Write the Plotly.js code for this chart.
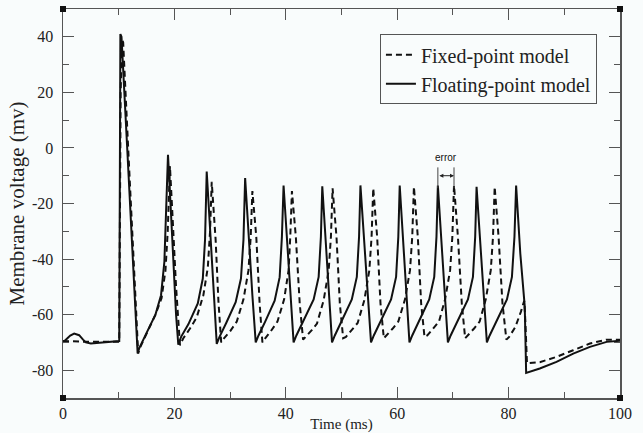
<!DOCTYPE html>
<html>
<head>
<meta charset="utf-8">
<script src="https://cdn.plot.ly/plotly-3.0.1.min.js"></script>
<style>html,body{margin:0;padding:0;background:#f9fcfc;}#chart{width:643px;height:433px;}</style>
</head>
<body>
<div id="chart"></div>
<script>
// Floating-point model (solid)
const floatTime = [0, 0.6, 1.3, 2.0, 2.9, 3.6, 4.1, 5.0, 7.0, 10.1,
  10.3, 10.5, 11.5, 12.5, 13.4,
  13.7, 14.5, 15.5, 16.6, 17.6, 18.2, 18.5, 18.85, 19.3, 19.9, 20.3, 20.7,
  21.2, 22.5, 24.2, 25.1, 25.5, 25.8, 26.5, 27.1, 27.6,
  28.1, 29.3, 31.0, 31.95, 32.4, 32.7, 33.4, 34.0, 34.6,
  35.1, 36.3, 38.0, 38.9, 39.3, 39.6, 40.35, 40.9, 41.4,
  41.9, 43.2, 45.0, 45.9, 46.3, 46.55, 47.3, 47.8, 48.3,
  48.8, 50.1, 51.85, 52.75, 53.15, 53.4, 54.2, 54.8, 55.3,
  55.8, 57.1, 58.9, 59.8, 60.2, 60.45, 61.2, 61.7, 62.2,
  62.7, 64.0, 65.75, 66.65, 67.05, 67.3, 68.05, 68.6, 69.1,
  69.6, 70.9, 72.7, 73.6, 74.0, 74.25, 75.0, 75.6, 76.1,
  76.6, 77.9, 79.7, 80.6, 81.05, 81.35, 82.1, 82.9, 83.15,
  85.6, 88.6, 91.6, 94.6, 97.6, 100];
const floatVolt = [-70, -69, -67.5, -66.8, -67.4, -69, -70, -70.4, -70, -69.5,
  41, 40, 1, -38, -74,
  -72, -68.5, -64.5, -60, -53, -41, -20, -2.5, -20, -45, -60, -70.8,
  -68, -63.5, -56, -47, -33, -8.5, -35, -53, -70.5,
  -68, -63, -55.5, -47, -33, -10.8, -36, -53, -70,
  -67.5, -62.5, -55, -46.5, -32, -13.5, -38, -54, -70,
  -67.5, -62, -54.5, -46.4, -32, -13.8, -38, -54, -70,
  -67.5, -62, -54.5, -46.4, -32, -13.5, -38, -54, -70,
  -67.5, -62, -54.5, -46.4, -32, -13.5, -38, -54, -70,
  -67.5, -62, -54.5, -46.4, -32, -13.5, -38, -54, -70,
  -67.5, -62, -54.5, -46.4, -32, -14, -38, -54, -70,
  -67.5, -62, -54.5, -46.4, -32, -13.5, -38, -57, -81,
  -79.4, -77, -74, -71.6, -69.8, -69.4];

// Fixed-point model (dashed)
const fixedTime = [0, 5, 10.1, 10.35, 10.6, 10.8, 11.7, 12.7, 13.5,
  13.8, 14.6, 15.6, 16.6, 17.7, 18.4, 18.8, 19.2, 19.6, 20.3, 21.0,
  21.6, 22.8, 24.0, 25.2, 26.0, 26.4, 26.7, 27.4, 27.9, 28.4,
  28.9, 30.0, 31.2, 32.4, 33.3, 33.7, 34.0, 34.7, 35.3, 35.8,
  36.3, 37.3, 38.5, 39.7, 40.5, 40.8, 41.1, 41.8, 42.5, 43.1,
  43.6, 44.7, 45.6, 46.8, 47.7, 48.1, 48.4, 49.1, 49.7, 50.3,
  50.8, 51.9, 52.9, 54.1, 55.0, 55.4, 55.7, 56.4, 57.0, 57.6,
  58.1, 59.2, 60.2, 61.4, 62.3, 62.7, 63.0, 63.7, 64.3, 64.9,
  65.4, 66.5, 67.5, 68.6, 69.5, 69.9, 70.2, 70.9, 71.6, 72.2,
  72.7, 73.8, 74.8, 75.9, 76.8, 77.2, 77.5, 78.2, 78.9, 79.6,
  80.1, 81.2, 82.2, 82.8, 83.0, 83.3, 85.6, 88.6, 91.6, 94.6, 97.6, 100];
const fixedVolt = [-69.5, -69.8, -69.8, 20, 39, 38, 0, -40, -74,
  -72, -68.5, -64, -60, -54, -44, -30, -6.5, -22, -50, -71,
  -68.5, -65, -61, -53, -43, -30, -12.2, -33, -55, -70,
  -68.5, -66, -62.5, -54.5, -44, -32, -15.5, -32, -56, -70,
  -68.5, -66, -62.5, -54.5, -44, -32, -15.5, -32, -56, -69,
  -68, -65.5, -63.2, -54.8, -44, -32, -14.5, -32, -56, -68.5,
  -68, -65.5, -63, -54.8, -44, -32, -14.5, -32, -56, -68.5,
  -67.5, -65, -62.5, -54.5, -44, -32, -14, -32, -56, -68,
  -67.5, -65, -62.5, -54.5, -44, -32, -13.5, -32, -56, -68.5,
  -67.5, -65, -62.5, -54.5, -44, -32, -14, -32, -56, -69,
  -68, -64.5, -59, -55, -62, -77.5, -77.1, -75.2, -72.8, -70.4, -69, -69];

const xTicks = [0, 20, 40, 60, 80, 100];
const yTicks = [-80, -60, -40, -20, 0, 20, 40];
const seriesNames = ['Fixed-point model', 'Floating-point model'];

const serif = 'Liberation Serif';
const frameColor = '#555';

const traces = [
  {x: fixedTime, y: fixedVolt, mode: 'lines', name: seriesNames[0],
   line: {color: '#111', width: 2, dash: '6px,4px'}},
  {x: floatTime, y: floatVolt, mode: 'lines', name: seriesNames[1],
   line: {color: '#111', width: 2}}
];

function corner(xa, ya) {
  return {type: 'rect', xref: 'paper', yref: 'paper', xsizemode: 'pixel', ysizemode: 'pixel',
    xanchor: xa, yanchor: ya, x0: -3, x1: 3, y0: -3, y1: 3,
    fillcolor: '#111', line: {width: 0}};
}

const axisCommon = {
  showgrid: false, zeroline: false, showline: true, linecolor: frameColor, linewidth: 1.5,
  mirror: 'allticks', ticks: 'inside', ticklen: 11, tickwidth: 1, tickcolor: frameColor,
  tickfont: {family: serif, size: 16, color: '#222'},
  minor: {ticks: 'inside', ticklen: 6, tickwidth: 1, tickcolor: frameColor, dtick: 10, showgrid: false}
};

const layout = {
  width: 643, height: 433,
  margin: {l: 63, r: 23, t: 9, b: 35},
  font: {family: serif},
  paper_bgcolor: '#f9fcfc', plot_bgcolor: '#f9fcfc',
  showlegend: true,
  legend: {x: 0.569, y: 0.935, xanchor: 'left', yanchor: 'top',
    bordercolor: '#555', borderwidth: 1, bgcolor: '#f9fcfc',
    font: {family: serif, size: 20, color: '#222'}, tracegroupgap: 0},
  xaxis: Object.assign({}, axisCommon, {
    range: [0, 100], tickvals: xTicks, ticktext: xTicks.map(String),
    title: {text: 'Time (ms)', font: {family: serif, size: 15, color: '#222'}, standoff: 0}
  }),
  yaxis: Object.assign({}, axisCommon, {
    range: [-90, 50], tickvals: yTicks, ticktext: yTicks.map(String), ticklabelstandoff: 5,
    title: {text: 'Membrane voltage (mv)', font: {family: serif, size: 21, color: '#222'}, standoff: 1}
  }),
  shapes: [
    corner(0, 0), corner(1, 0), corner(0, 1), corner(1, 1),
    {type: 'line', xref: 'x', yref: 'y', x0: 67.3, x1: 67.3, y0: -7, y1: -14.5, line: {color: '#444', width: 1}},
    {type: 'line', xref: 'x', yref: 'y', x0: 70.2, x1: 70.2, y0: -7, y1: -14.5, line: {color: '#444', width: 1}}
  ],
  annotations: [
    {x: 68.75, y: -3.6, xref: 'x', yref: 'y', text: 'error', showarrow: false,
     font: {family: 'Liberation Sans', size: 10, color: '#111'}},
    {x: 70.2, y: -10, ax: 67.3, ay: -10, xref: 'x', yref: 'y', axref: 'x', ayref: 'y',
     text: '', showarrow: true, arrowhead: 2, arrowside: 'end+start', arrowsize: 0.8,
     arrowwidth: 1, arrowcolor: '#222', standoff: 0, startstandoff: 0}
  ]
};

Plotly.newPlot('chart', traces, layout, {displayModeBar: false, staticPlot: true});
</script>
</body>
</html>
